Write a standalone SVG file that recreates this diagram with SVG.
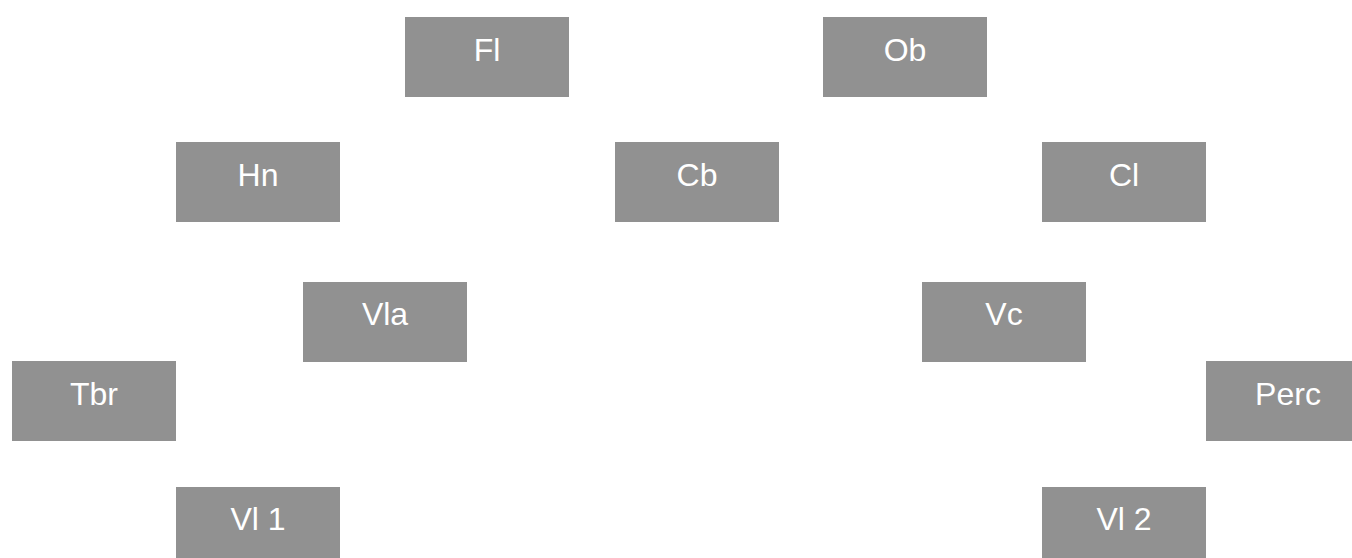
<svg xmlns="http://www.w3.org/2000/svg" width="1352" height="558" viewBox="0 0 1352 558">
<style>
.box{fill:#919191}
.lbl{fill:#ffffff;font-family:"Liberation Sans",Arial,Helvetica,sans-serif;font-size:32px;text-anchor:middle}
</style>
<rect width="1352" height="558" fill="#ffffff"/>
<g id="connectors"></g>
<g id="n-fl"><rect class="box" x="405" y="17" width="164" height="80"/><text class="lbl" x="487" y="61">Fl</text></g>
<g id="n-ob"><rect class="box" x="823" y="17" width="164" height="80"/><text class="lbl" x="905" y="61">Ob</text></g>
<g id="n-hn"><rect class="box" x="176" y="142" width="164" height="80"/><text class="lbl" x="258" y="186">Hn</text></g>
<g id="n-cb"><rect class="box" x="615" y="142" width="164" height="80"/><text class="lbl" x="697" y="186">Cb</text></g>
<g id="n-cl"><rect class="box" x="1042" y="142" width="164" height="80"/><text class="lbl" x="1124" y="186">Cl</text></g>
<g id="n-vla"><rect class="box" x="303" y="282" width="164" height="80"/><text class="lbl" x="385" y="325">Vla</text></g>
<g id="n-vc"><rect class="box" x="922" y="282" width="164" height="80"/><text class="lbl" x="1004" y="325">Vc</text></g>
<g id="n-tbr"><rect class="box" x="12" y="361" width="164" height="80"/><text class="lbl" x="94" y="405">Tbr</text></g>
<g id="n-perc"><rect class="box" x="1206" y="361" width="164" height="80"/><text class="lbl" x="1288" y="405">Perc</text></g>
<g id="n-vl1"><rect class="box" x="176" y="487" width="164" height="80"/><text class="lbl" x="258" y="530">Vl 1</text></g>
<g id="n-vl2"><rect class="box" x="1042" y="487" width="164" height="80"/><text class="lbl" x="1124" y="530">Vl 2</text></g>
</svg>
